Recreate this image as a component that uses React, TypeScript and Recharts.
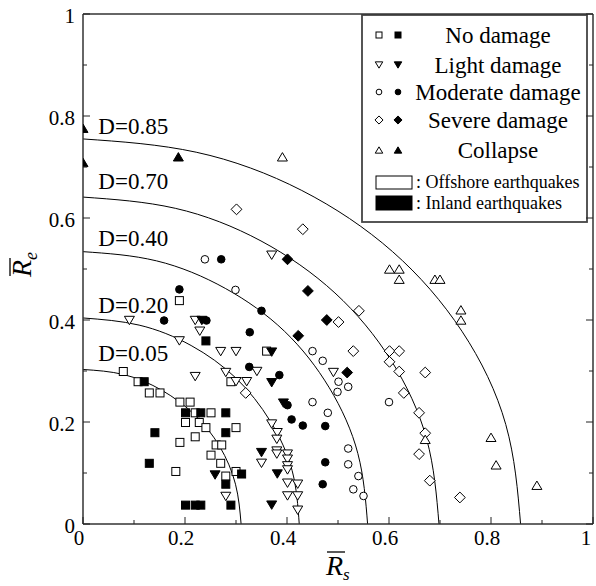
import { ComposedChart, Line, Scatter, XAxis, YAxis } from "recharts";

const FONT = "'Liberation Serif', 'Times New Roman', serif";

type Pt = [number, number];

// axis ticks (0.1 steps, labels only on the 0.2 steps)
const tickValues = [0, 0.1, 0.2, 0.3, 0.4, 0.5, 0.6, 0.7, 0.8, 0.9, 1];
const tickLabels = ["0", "", "0.2", "", "0.4", "", "0.6", "", "0.8", "", "1"];

// No damage
const noDamageOffshore: Pt[] = [
  [0.189, 0.438], [0.079, 0.299], [0.108, 0.279], [0.13, 0.257], [0.151, 0.257],
  [0.29, 0.279], [0.19, 0.239], [0.21, 0.239], [0.22, 0.218], [0.251, 0.218],
  [0.201, 0.199], [0.228, 0.199], [0.241, 0.189], [0.3, 0.189], [0.19, 0.16],
  [0.22, 0.171], [0.261, 0.155], [0.272, 0.155], [0.251, 0.135], [0.27, 0.119],
  [0.182, 0.103], [0.28, 0.094], [0.3, 0.103], [0.36, 0.339],
];
const noDamageInland: Pt[] = [
  [0.12, 0.279], [0.241, 0.359], [0.201, 0.218], [0.231, 0.218], [0.28, 0.218],
  [0.141, 0.179], [0.28, 0.179], [0.13, 0.119], [0.311, 0.098], [0.28, 0.078],
  [0.201, 0.037], [0.22, 0.037], [0.231, 0.037], [0.29, 0.037],
];

// Light damage
const lightOffshore: Pt[] = [
  [0.091, 0.399], [0.22, 0.399], [0.229, 0.378], [0.189, 0.359], [0.27, 0.338],
  [0.3, 0.338], [0.341, 0.299], [0.22, 0.289], [0.28, 0.297], [0.3, 0.279],
  [0.321, 0.279], [0.28, 0.054], [0.37, 0.527], [0.491, 0.297], [0.37, 0.196],
  [0.381, 0.179], [0.38, 0.166], [0.38, 0.143], [0.38, 0.137], [0.401, 0.137],
  [0.401, 0.127], [0.401, 0.114], [0.401, 0.106], [0.35, 0.119], [0.401, 0.08],
  [0.421, 0.078], [0.401, 0.055], [0.421, 0.055], [0.421, 0.027],
];
const lightInland: Pt[] = [
  [0.233, 0.399], [0.37, 0.337], [0.37, 0.277], [0.393, 0.237], [0.35, 0.14],
  [0.381, 0.098], [0.37, 0.037], [0.259, 0.096],
];

// Moderate damage
const moderateOffshore: Pt[] = [
  [0.239, 0.519], [0.299, 0.459], [0.45, 0.339], [0.47, 0.32], [0.501, 0.279],
  [0.52, 0.269], [0.499, 0.259], [0.45, 0.239], [0.48, 0.218], [0.52, 0.148],
  [0.52, 0.117], [0.54, 0.094], [0.53, 0.068], [0.55, 0.055], [0.6, 0.239],
];
const moderateInland: Pt[] = [
  [0.271, 0.519], [0.189, 0.46], [0.35, 0.418], [0.159, 0.399], [0.242, 0.399],
  [0.327, 0.376], [0.326, 0.308], [0.385, 0.292], [0.401, 0.233], [0.409, 0.205],
  [0.431, 0.193], [0.475, 0.192], [0.475, 0.121], [0.47, 0.078],
];

// Severe damage
const severeOffshore: Pt[] = [
  [0.541, 0.418], [0.501, 0.396], [0.53, 0.339], [0.601, 0.339], [0.62, 0.339],
  [0.601, 0.318], [0.62, 0.299], [0.671, 0.297], [0.629, 0.257], [0.659, 0.218],
  [0.671, 0.178], [0.659, 0.137], [0.68, 0.085], [0.739, 0.052], [0.319, 0.257],
  [0.301, 0.617], [0.431, 0.578],
];
const severeInland: Pt[] = [
  [0.401, 0.519], [0.441, 0.457], [0.478, 0.4], [0.422, 0.369], [0.518, 0.297],
];

// Collapse
const collapseOffshore: Pt[] = [
  [0.391, 0.72], [0.601, 0.5], [0.62, 0.5], [0.62, 0.48], [0.69, 0.48],
  [0.7, 0.48], [0.741, 0.42], [0.741, 0.4], [0.671, 0.166], [0.8, 0.17],
  [0.81, 0.116], [0.89, 0.076],
];
const collapseInland: Pt[] = [[0, 0.776], [0, 0.709], [0.187, 0.72]];

// iso-damage contours
const contourNames = ["D=0.05", "D=0.20", "D=0.40", "D=0.70", "D=0.85"];
const contourLabelY = [0.335, 0.429, 0.56, 0.672, 0.78];
const contourLines: Pt[][] = [
  [[0, 0.303], [0.08, 0.293], [0.155, 0.262], [0.219, 0.214], [0.268, 0.152], [0.299, 0.078], [0.31, 0]],
  [[0, 0.404], [0.11, 0.39], [0.212, 0.35], [0.3, 0.286], [0.367, 0.202], [0.41, 0.105], [0.424, 0]],
  [[0, 0.534], [0.144, 0.516], [0.279, 0.462], [0.395, 0.378], [0.483, 0.267], [0.539, 0.138], [0.558, 0]],
  [[0, 0.641], [0.181, 0.619], [0.349, 0.555], [0.494, 0.453], [0.604, 0.321], [0.674, 0.166], [0.698, 0]],
  [[0, 0.755], [0.222, 0.729], [0.429, 0.654], [0.607, 0.534], [0.743, 0.378], [0.829, 0.195], [0.858, 0]],
];

type Kind = "square" | "triDown" | "circle" | "diamond" | "triUp";

const groups: { name: string; kind: Kind; offshore: Pt[]; inland: Pt[] }[] = [
  { name: "No damage", kind: "square", offshore: noDamageOffshore, inland: noDamageInland },
  { name: "Light damage", kind: "triDown", offshore: lightOffshore, inland: lightInland },
  { name: "Moderate damage", kind: "circle", offshore: moderateOffshore, inland: moderateInland },
  { name: "Severe damage", kind: "diamond", offshore: severeOffshore, inland: severeInland },
  { name: "Collapse", kind: "triUp", offshore: collapseOffshore, inland: collapseInland },
];

const toXY = (pts: Pt[]) => pts.map(([x, y]) => ({ x, y }));

function Marker({ cx, cy, kind, filled, s = 1 }: { cx: number; cy: number; kind: Kind; filled: boolean; s?: number }) {
  const style = { fill: filled ? "#000" : "#fff", stroke: "#000", strokeWidth: 1 };
  if (kind === "square") {
    const h = 4 * s;
    return <rect x={cx - h} y={cy - h} width={2 * h} height={2 * h} {...style} />;
  }
  if (kind === "circle") return <circle cx={cx} cy={cy} r={3.8 * s} {...style} />;
  if (kind === "diamond") {
    const d = 5.4 * s;
    return <polygon points={`${cx},${cy - d} ${cx + d},${cy} ${cx},${cy + d} ${cx - d},${cy}`} {...style} />;
  }
  const w = 5 * s;
  const h = 4.2 * s;
  if (kind === "triDown")
    return <polygon points={`${cx - w},${cy - h} ${cx + w},${cy - h} ${cx},${cy + h}`} {...style} />;
  return <polygon points={`${cx - w},${cy + h} ${cx + w},${cy + h} ${cx},${cy - h}`} {...style} />;
}

const shapeFor = (kind: Kind, filled: boolean) => (p: any) =>
  <Marker cx={p.cx} cy={p.cy} kind={kind} filled={filled} />;

const isMajor = (i: number) => i % 2 === 0;
const tickLen = (i: number) => (isMajor(i) ? 7 : 4);
const tickText = { fontFamily: FONT, fontSize: 21, fill: "#000" };
const tickStroke = "#222";

const BottomTick = (p: any) => (
  <g>
    <line x1={p.x} y1={p.y} x2={p.x} y2={p.y - tickLen(p.index)} stroke={tickStroke} />
    {tickLabels[p.index] && (
      <text x={p.index === 10 ? p.x - 7 : p.x - 4} y={p.y + 21} textAnchor="middle" {...tickText}>
        {tickLabels[p.index]}
      </text>
    )}
  </g>
);
const TopTick = (p: any) => (
  <line x1={p.x} y1={p.y} x2={p.x} y2={p.y + tickLen(p.index)} stroke={tickStroke} />
);
const LeftTick = (p: any) => (
  <g>
    <line x1={p.x} y1={p.y} x2={p.x + tickLen(p.index)} y2={p.y} stroke={tickStroke} />
    {tickLabels[p.index] && (
      <text x={p.x - 8} y={p.y + 9} textAnchor="end" {...tickText}>
        {tickLabels[p.index]}
      </text>
    )}
  </g>
);
const RightTick = (p: any) => (
  <line x1={p.x} y1={p.y} x2={p.x - tickLen(p.index)} y2={p.y} stroke={tickStroke} />
);

// R-bar with subscript, drawn in the axis label slot
const XTitle = (p: any) => {
  const vb = p.viewBox || { x: 83, y: 524, width: 510 };
  const x0 = vb.x + vb.width / 2 - 12;
  const base = vb.y + 51;
  return (
    <g fontFamily={FONT} fontStyle="italic">
      <line x1={x0 + 1} y1={base - 23} x2={x0 + 19} y2={base - 23} stroke="#000" strokeWidth={1.3} />
      <text x={x0} y={base} fontSize={28}>R</text>
      <text x={x0 + 17} y={base + 5} fontSize={17}>s</text>
    </g>
  );
};
const YTitle = (p: any) => {
  const vb = p.viewBox || { x: 0, y: 14, height: 510 };
  const cy = vb.y + vb.height / 2 + 8;
  return (
    <g transform={`translate(31, ${cy}) rotate(-90)`} fontFamily={FONT} fontStyle="italic">
      <line x1={1} y1={-21} x2={19} y2={-21} stroke="#000" strokeWidth={1.3} />
      <text x={0} y={0} fontSize={28}>R</text>
      <text x={17} y={6} fontSize={18}>e</text>
    </g>
  );
};

const ContourLabel = (p: any) => (
  <text x={p.cx} y={p.cy + 8} fontFamily={FONT} fontSize={23} fill="#000">
    {p.payload.label}
  </text>
);

function LegendBox() {
  const rowY = [21, 51, 78, 106, 136];
  return (
    <svg width={227} height={209} style={{ position: "absolute", left: 361, top: 14 }}>
      <rect x={1} y={1} width={225} height={207} fill="#fff" stroke="#444" strokeWidth={1.8} />
      {groups.map((g, i) => (
        <g key={g.name}>
          <Marker cx={18} cy={rowY[i]} kind={g.kind} filled={false} s={0.75} />
          <Marker cx={37} cy={rowY[i]} kind={g.kind} filled s={0.75} />
          <text x={137} y={rowY[i] + 8} textAnchor="middle" fontFamily={FONT} fontSize={23}>
            {g.name}
          </text>
        </g>
      ))}
      <rect x={15} y={162} width={36} height={13} fill="#fff" stroke="#000" strokeWidth={1} />
      <text x={55} y={174} fontFamily={FONT} fontSize={18}>: Offshore earthquakes</text>
      <rect x={15} y={182} width={36} height={14} fill="#000" stroke="#000" strokeWidth={1} />
      <text x={55} y={195} fontFamily={FONT} fontSize={18}>: Inland earthquakes</text>
    </svg>
  );
}

export default function App() {
  const labelData = contourNames.map((label, i) => ({ x: 0.03, y: contourLabelY[i], label }));
  const axisLine = { stroke: "#333", strokeWidth: 1.5 };
  return (
    <div style={{ position: "absolute", left: 0, top: 0, width: 596, height: 586, background: "#fff" }}>
      <LegendBox />
      <div style={{ position: "absolute", left: 0, top: 0 }}>
        <ComposedChart width={596} height={586} margin={{ top: 0, right: 0, bottom: 0, left: 0 }}>
          <XAxis
            type="number"
            dataKey="x"
            domain={[0, 1]}
            ticks={tickValues}
            interval={0}
            allowDataOverflow
            height={62}
            tickSize={0}
            tickMargin={0}
            tickLine={false}
            axisLine={axisLine}
            tick={BottomTick}
            label={<XTitle />}
          />
          <XAxis
            xAxisId="top"
            orientation="top"
            type="number"
            domain={[0, 1]}
            ticks={tickValues}
            interval={0}
            allowDataOverflow
            height={14}
            tickSize={0}
            tickMargin={0}
            tickLine={false}
            axisLine={axisLine}
            tick={TopTick}
          />
          <YAxis
            type="number"
            dataKey="y"
            domain={[0, 1]}
            ticks={tickValues}
            interval={0}
            allowDataOverflow
            width={83}
            tickSize={0}
            tickMargin={0}
            tickLine={false}
            axisLine={axisLine}
            tick={LeftTick}
            label={<YTitle />}
          />
          <YAxis
            yAxisId="right"
            orientation="right"
            type="number"
            domain={[0, 1]}
            ticks={tickValues}
            interval={0}
            allowDataOverflow
            width={3}
            tickSize={0}
            tickMargin={0}
            tickLine={false}
            axisLine={axisLine}
            tick={RightTick}
          />
          {contourLines.map((c, i) => (
            <Line
              key={contourNames[i]}
              data={toXY(c)}
              dataKey="y"
              type="natural"
              stroke="#000"
              strokeWidth={1}
              dot={false}
              activeDot={false}
              isAnimationActive={false}
            />
          ))}
          <Scatter data={labelData} dataKey="y" shape={ContourLabel} isAnimationActive={false} />
          {groups.map((g) => (
            <Scatter
              key={g.name + "o"}
              data={toXY(g.offshore)}
              dataKey="y"
              shape={shapeFor(g.kind, false)}
              isAnimationActive={false}
            />
          ))}
          {groups.map((g) => (
            <Scatter
              key={g.name + "i"}
              data={toXY(g.inland)}
              dataKey="y"
              shape={shapeFor(g.kind, true)}
              isAnimationActive={false}
            />
          ))}
        </ComposedChart>
      </div>
    </div>
  );
}
